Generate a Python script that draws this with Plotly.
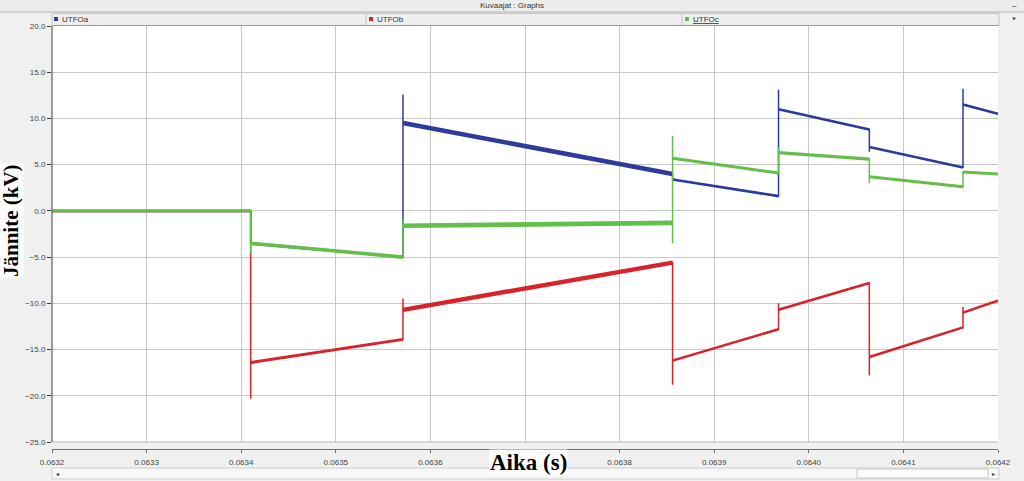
import plotly.graph_objects as go

# ---------------- data ----------------
t_a = [0.0632, 0.06341, 0.06341, 0.063571, 0.063571, 0.063571, 0.063856, 0.063856,
       0.063968, 0.063968, 0.063968, 0.064064, 0.064064, 0.064064, 0.064163, 0.064163,
       0.064163, 0.0642]
v_a = [0.0, 0.0, -3.6, -5.0, 12.6, 9.5, 4.0, 3.4,
       1.6, 13.1, 11.0, 8.8, 6.4, 6.9, 4.7, 13.2,
       11.5, 10.5]

t_b = [0.0632, 0.06341, 0.06341, 0.06341, 0.063571, 0.063571, 0.063571, 0.063856,
       0.063856, 0.063856, 0.063968, 0.063968, 0.063968, 0.064064, 0.064064, 0.064064,
       0.064163, 0.064163, 0.064163, 0.0642]
v_b = [0.0, 0.0, -20.3, -16.4, -13.9, -9.5, -10.7, -5.6,
       -18.8, -16.2, -12.8, -10.0, -10.7, -7.8, -17.8, -15.8,
       -12.6, -10.4, -11.0, -9.7]

t_c = [0.0632, 0.06341, 0.06341, 0.06341, 0.063571, 0.063571, 0.063571, 0.063856,
       0.063856, 0.063856, 0.063856, 0.063968, 0.063968, 0.063968, 0.064064, 0.064064,
       0.064064, 0.064163, 0.064163, 0.0642]
v_c = [0.0, 0.0, -4.6, -3.5, -5.0, -0.9, -1.6, -1.3,
       8.1, -3.5, 5.7, 4.1, 6.9, 6.3, 5.6, 3.0,
       3.7, 2.6, 4.2, 4.0]

series_names = ["UTFOa", "UTFOb", "UTFOc"]
event_times = [0.0632, 0.06341, 0.063571, 0.063856, 0.063968, 0.064064, 0.064163, 0.0642]
x_ticks = [0.0632, 0.0633, 0.0634, 0.0635, 0.0636, 0.0637, 0.0638, 0.0639, 0.0640, 0.0641, 0.0642]
x_tick_labels = ["0.0632", "0.0633", "0.0634", "0.0635", "0.0636", "", "0.0638", "0.0639", "0.0640", "0.0641", "0.0642"]
y_ticks = [-25, -20, -15, -10, -5, 0, 5, 10, 15, 20]

# ---------------- styling ----------------
C_A = "#2d3c9c"
C_B = "#d8232a"
C_C = "#64bf4a"
# line width of each sloped run (between consecutive events), per series
run_widths = {
    C_A: [2.5, 0, 4.6, 2.6, 2.6, 2.6, 2.6],
    C_B: [2.5, 3.0, 4.4, 2.5, 2.5, 2.5, 2.5],
    C_C: [2.6, 3.6, 4.6, 3.0, 3.2, 3.0, 3.0],
}

W, H = 1024, 481
ML, MR, MT, MB = 52, 26, 26, 32
PW, PH = W - ML - MR, H - MT - MB
YMIN_VIS, YMAX = -25.0, 20.0
px_per_kv = (442 - 26) / (YMAX - YMIN_VIS)
YMIN = YMIN_VIS - (449 - 442) / px_per_kv


def xp(px):
    return (px - ML) / PW


def yp(py):
    return (H - MB - py) / PH


def sloped_part(ts, vs, lo, hi):
    """Return only the sloped run between the jump at lo and the jump at hi."""
    eps = 1e-9
    lo_idx = [i for i, t in enumerate(ts) if abs(t - lo) < eps]
    hi_idx = [i for i, t in enumerate(ts) if abs(t - hi) < eps]
    i0, i1 = lo_idx[-1], hi_idx[0]
    return ts[i0:i1 + 1], vs[i0:i1 + 1]


fig = go.Figure()

for ts, vs, col in [(t_a, v_a, C_A), (t_b, v_b, C_B), (t_c, v_c, C_C)]:
    # full trace including the thin vertical jumps/spikes
    fig.add_trace(go.Scatter(x=ts, y=vs, mode="lines", line=dict(color=col, width=1.5),
                             showlegend=False, hoverinfo="skip"))
    for k in range(len(event_times) - 1):
        w = run_widths[col][k]
        if w <= 0:
            continue
        sx, sy = sloped_part(ts, vs, event_times[k], event_times[k + 1])
        fig.add_trace(go.Scatter(x=sx, y=sy, mode="lines", line=dict(color=col, width=w),
                                 showlegend=False, hoverinfo="skip"))

shapes = []
annotations = []

# band between plot bottom and x axis line
shapes.append(dict(type="rect", xref="paper", yref="y", x0=0, x1=1, y0=YMIN, y1=YMIN_VIS,
                   fillcolor="#f0f0f0", line=dict(width=0), layer="above"))
shapes.append(dict(type="line", xref="paper", yref="y", x0=0, x1=1, y0=YMIN_VIS, y1=YMIN_VIS,
                   line=dict(color="#b8b8b8", width=1), layer="above"))
shapes.append(dict(type="line", xref="paper", yref="y", x0=0, x1=0, y0=YMIN_VIS, y1=YMAX,
                   line=dict(color="#404040", width=1), layer="above"))

# title bar
shapes.append(dict(type="rect", xref="paper", yref="paper", x0=xp(0), x1=xp(W), y0=yp(12), y1=yp(0),
                   fillcolor="#ececec", line=dict(width=0), layer="above"))
shapes.append(dict(type="line", xref="paper", yref="paper", x0=xp(0), x1=xp(W), y0=yp(12), y1=yp(12),
                   line=dict(color="#b4b4b4", width=1), layer="above"))
annotations.append(dict(text="Kuvaajat : Graphs", xref="paper", yref="paper", x=xp(512), y=yp(5.5),
                        showarrow=False, font=dict(family="Arial, Liberation Sans", size=8, color="#333333"),
                        xanchor="center", yanchor="middle"))
annotations.append(dict(text="–", xref="paper", yref="paper", x=xp(1014), y=yp(6),
                        showarrow=False, font=dict(family="Arial, Liberation Sans", size=8, color="#333333"),
                        xanchor="center", yanchor="middle"))
annotations.append(dict(text="▸", xref="paper", yref="paper", x=xp(1014), y=yp(18),
                        showarrow=False, font=dict(family="DejaVu Sans", size=6, color="#333333"),
                        xanchor="center", yanchor="middle"))

# legend bar
shapes.append(dict(type="rect", xref="paper", yref="paper", x0=xp(52), x1=xp(999), y0=yp(25.5), y1=yp(13.5),
                   fillcolor="#efefef", line=dict(color="#c4c4c4", width=1), layer="above"))
shapes.append(dict(type="line", xref="paper", yref="paper", x0=xp(52), x1=xp(999), y0=yp(25.5), y1=yp(25.5),
                   line=dict(color="#9a9a9a", width=1), layer="above"))
for sx in [366, 682]:
    shapes.append(dict(type="line", xref="paper", yref="paper", x0=xp(sx), x1=xp(sx), y0=yp(25), y1=yp(14),
                       line=dict(color="#c0c0c0", width=1), layer="above"))
leg_x = [54, 369, 685]
for name, col, lx in zip(series_names, [C_A, C_B, C_C], leg_x):
    shapes.append(dict(type="rect", xref="paper", yref="paper", x0=xp(lx), x1=xp(lx + 4), y0=yp(21), y1=yp(17),
                       fillcolor=col, line=dict(width=0), layer="above"))
    txt = name if name != "UTFOc" else "<span style='text-decoration:underline'>UTFOc</span>"
    annotations.append(dict(text=txt, xref="paper", yref="paper", x=xp(lx + 6), y=yp(19.5),
                            showarrow=False, font=dict(family="Arial, Liberation Sans", size=8, color="#333333"),
                            xanchor="left", yanchor="middle"))

# bottom scrollbar
shapes.append(dict(type="rect", xref="paper", yref="paper", x0=xp(52), x1=xp(999), y0=yp(479), y1=yp(468),
                   fillcolor="#f7f7f7", line=dict(color="#d0d0d0", width=1), layer="above"))
shapes.append(dict(type="rect", xref="paper", yref="paper", x0=xp(857), x1=xp(988), y0=yp(478), y1=yp(469),
                   fillcolor="#fbfbfb", line=dict(color="#c8c8c8", width=1), layer="above"))
annotations.append(dict(text="◂", xref="paper", yref="paper", x=xp(57), y=yp(473),
                        showarrow=False, font=dict(family="DejaVu Sans", size=6, color="#333333"),
                        xanchor="center", yanchor="middle"))
annotations.append(dict(text="▸", xref="paper", yref="paper", x=xp(993), y=yp(473),
                        showarrow=False, font=dict(family="DejaVu Sans", size=6, color="#333333"),
                        xanchor="center", yanchor="middle"))

# axis titles
annotations.append(dict(text="<b>Aika (s)</b>", xref="paper", yref="paper", x=xp(528), y=yp(462),
                        showarrow=False, font=dict(family="Liberation Serif, Times New Roman", size=23, color="#000000"),
                        xanchor="center", yanchor="middle", bgcolor="#ffffff", borderpad=0))
annotations.append(dict(text="<b>Jännite (kV)</b>", xref="paper", yref="paper", x=xp(11), y=yp(221),
                        showarrow=False, textangle=-90,
                        font=dict(family="Liberation Serif, Times New Roman", size=21, color="#000000"),
                        xanchor="center", yanchor="middle", bgcolor="#ffffff", borderpad=0))

fig.update_layout(
    width=W, height=H,
    margin=dict(l=ML, r=MR, t=MT, b=MB, pad=0),
    paper_bgcolor="#f0f0f0",
    plot_bgcolor="#ffffff",
    shapes=shapes,
    annotations=annotations,
    showlegend=False,
    xaxis=dict(range=[x_ticks[0], x_ticks[-1]], tickvals=x_ticks, ticktext=x_tick_labels,
               showgrid=True, gridcolor="#c8c8c8", gridwidth=1, zeroline=False,
               showline=True, linecolor="#707070", linewidth=1,
               ticks="outside", ticklen=3, tickcolor="#707070",
               tickfont=dict(family="Arial, Liberation Sans", size=8, color="#444444"),
               ticklabelstandoff=2),
    yaxis=dict(range=[YMIN, YMAX], tickvals=y_ticks, tickformat=".1f",
               showgrid=True, gridcolor="#c8c8c8", gridwidth=1, zeroline=False,
               showline=False,
               ticks="outside", ticklen=4, tickcolor="#404040",
               tickfont=dict(family="Arial, Liberation Sans", size=8, color="#444444")),
)

fig.write_html("out.html", config={"displayModeBar": False},
               post_script="document.body.style.margin='0';document.body.style.overflow='hidden';")
